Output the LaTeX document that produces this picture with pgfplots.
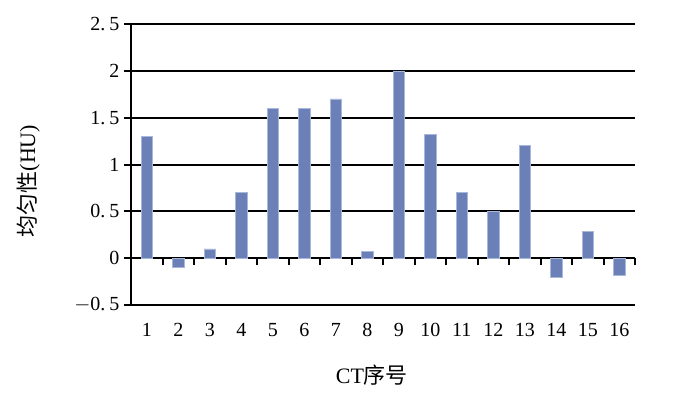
\documentclass[border=0pt]{standalone}
\usepackage{pgfplots}
\pgfplotsset{compat=1.18}
\usepackage{fontspec}
\setmainfont{Liberation Serif}
\newfontfamily\cjk{Noto Sans CJK SC}
\definecolor{barblue}{HTML}{6A80B6}
\definecolor{baredge}{HTML}{A9B8DA}

\begin{document}
\begin{tikzpicture}[x=1pt,y=1pt]
\path[use as bounding box] (0,0) rectangle (700,410);
\begin{axis}[
  at={(131pt,105pt)}, anchor=south west,
  scale only axis, width=504pt, height=281pt,
  xmin=0.5, xmax=16.5, ymin=-0.5, ymax=2.5,
  axis y line*=left, axis x line*=middle,
  axis line style={black, line width=2pt},
  ybar, bar width=11.5pt, bar shift=0pt,
  xtick={1.5,2.5,...,16.5}, xticklabels={},
  extra x ticks={1,...,16},
  extra x tick style={major tick length=0pt,
    xticklabel style={anchor=center, yshift=-72pt}},
  major tick length=7pt,
  tick align=outside,
  tick style={black, line width=2pt},
  ytick={-0.5,0,...,2.5},
  yticklabels={$-$0.\hspace{4pt}5, 0, 0.\hspace{4pt}5, 1, 1.\hspace{4pt}5, 2, 2.\hspace{4pt}5},
  ymajorgrids, grid style={black, line width=2pt},
  /pgf/number format/assume math mode=true,
  tick label style={font=\fontsize{20}{20}\selectfont},
  yticklabel style={xshift=-1pt},
  ylabel={{\cjk 均匀性}(HU)},
  xlabel={CT{\cjk 序号}},
  label style={font=\fontsize{22}{22}\selectfont},
  ylabel style={at={(axis description cs:-0.204,0.441)}, anchor=center},
  xlabel style={at={(axis description cs:0.478,-0.249)}, anchor=center},
  clip=false,
]
\addplot[fill=barblue, draw=baredge, line width=0.6pt] coordinates {
(1,1.30) (2,-0.10) (3,0.10) (4,0.70) (5,1.60) (6,1.60) (7,1.70) (8,0.07)
(9,2.00) (10,1.32) (11,0.70) (12,0.50) (13,1.20) (14,-0.20) (15,0.29) (16,-0.18)};
\end{axis}
\end{tikzpicture}
\end{document}
